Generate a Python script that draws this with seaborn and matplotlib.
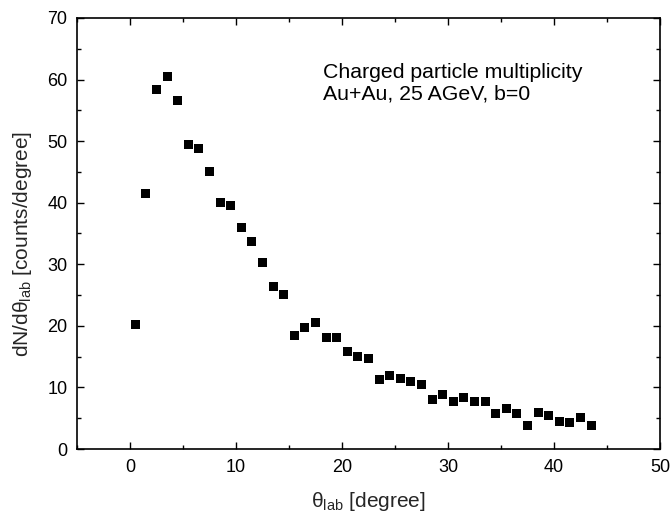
import matplotlib
matplotlib.use("Agg")
import matplotlib.pyplot as plt
from matplotlib.ticker import MultipleLocator
import seaborn as sns
import pandas as pd

theta = [0.5, 1.5, 2.5, 3.5, 4.5, 5.5, 6.5, 7.5, 8.5, 9.5, 10.5, 11.5, 12.5, 13.5,
         14.5, 15.5, 16.5, 17.5, 18.5, 19.5, 20.5, 21.5, 22.5, 23.5, 24.5, 25.5,
         26.5, 27.5, 28.5, 29.5, 30.5, 31.5, 32.5, 33.5, 34.5, 35.5, 36.5, 37.5,
         38.5, 39.5, 40.5, 41.5, 42.5, 43.5]
dndtheta = [20.3, 41.5, 58.3, 60.5, 56.6, 49.5, 48.8, 45.1, 40.1, 39.6, 35.9, 33.7,
            30.3, 26.4, 25.1, 18.4, 19.8, 20.6, 18.1, 18.1, 15.8, 15.1, 14.65, 11.35,
            11.95, 11.5, 11.0, 10.4, 8.1, 8.8, 7.75, 8.35, 7.65, 7.75, 5.8, 6.5, 5.75,
            3.9, 5.85, 5.4, 4.55, 4.35, 5.1, 3.9]

df = pd.DataFrame({"theta": theta, "dn": dndtheta})

sns.set_theme(style="white")
plt.rcParams["font.family"] = ["Liberation Sans", "DejaVu Sans"]
plt.rcParams["mathtext.fontset"] = "custom"
plt.rcParams["mathtext.rm"] = "Liberation Sans"
plt.rcParams["mathtext.it"] = "Liberation Sans:italic"

fig = plt.figure(figsize=(6.72, 5.12), dpi=100)
ax = fig.add_axes([0.1146, 0.123, 0.8674, 0.842])

sns.scatterplot(data=df, x="theta", y="dn", ax=ax, marker="s", s=42,
                color="black", edgecolor="none", linewidth=0)

ax.set_xlim(-5, 50)
ax.set_ylim(0, 70)
ax.xaxis.set_major_locator(MultipleLocator(10))
ax.xaxis.set_minor_locator(MultipleLocator(5))
ax.yaxis.set_major_locator(MultipleLocator(10))
ax.yaxis.set_minor_locator(MultipleLocator(5))
ax.tick_params(which="both", direction="in", top=True, right=True,
               bottom=True, left=True, colors="black", labelsize=13,
               width=1.0)
ax.tick_params(which="major", length=5, pad=7)
ax.tick_params(which="minor", length=3)
for sp in ax.spines.values():
    sp.set_color("black")
    sp.set_linewidth(1.2)

ax.set_xlabel("θ$_{\\mathrm{lab}}$ [degree]", fontsize=15, labelpad=10)
ax.set_ylabel("dN/dθ$_{\\mathrm{lab}}$ [counts/degree]", fontsize=15, labelpad=8)
ax.yaxis.set_label_coords(-0.074, 0.475)

ax.text(18.24, 62.7, "Charged particle multiplicity\nAu+Au, 25 AGeV, b=0",
        fontsize=15.3, ha="left", va="top", linespacing=1.17, color="black")

fig.savefig("out.png", dpi=100)
